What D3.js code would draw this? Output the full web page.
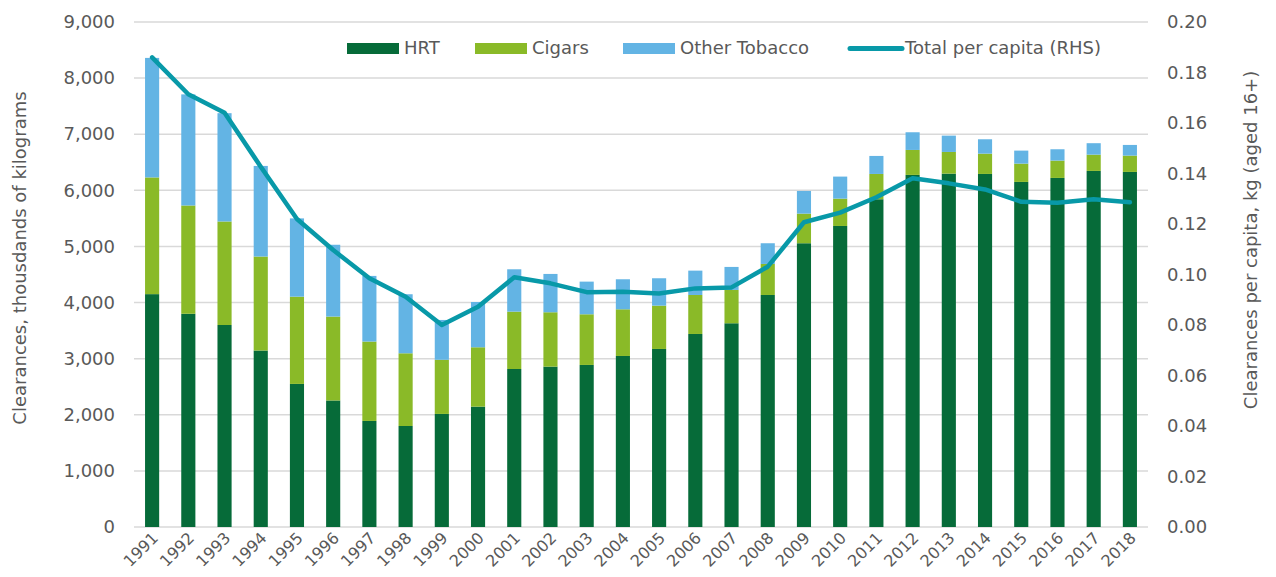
<!DOCTYPE html>
<html lang="en">
<head>
    <meta charset="UTF-8">
    <title>Tobacco clearances</title>
    <script src="https://d3js.org/d3.v7.min.js"></script>
    <style>
        body { margin: 0; background: #fff; }
        svg { display: block; font-family: "DejaVu Sans", Verdana, sans-serif; }
    </style>
</head>
<body>
    <svg width="1276" height="577"></svg>
    <script>
        // Data (thousands of kg, per capita kg)
        const years = d3.range(1991, 2019).map(String);
        const hrt = [4150, 3800, 3600, 3145, 2550, 2255, 1890, 1800, 2015, 2145, 2816, 2858, 2888, 3048,
                     3173, 3440, 3631, 4135, 5057, 5365, 5841, 6275, 6298, 6292, 6150, 6221, 6346, 6328];
        const cigars = [2080, 1930, 1845, 1675, 1555, 1495, 1415, 1296, 965, 1058, 1022, 969, 903, 832,
                        772, 695, 594, 553, 528, 487, 451, 445, 386, 362, 326, 309, 290, 291];
        const otherTobacco = [2130, 1980, 1930, 1615, 1395, 1280, 1170, 1052, 710, 807, 755, 683, 582, 535,
                              488, 434, 410, 369, 404, 393, 321, 315, 291, 256, 232, 202, 204, 190];
        const perCapita = [0.186, 0.1714, 0.1641, 0.1427, 0.122, 0.1097, 0.0985, 0.0912, 0.080, 0.0872,
                           0.0989, 0.0965, 0.093, 0.0932, 0.0925, 0.0945, 0.0949, 0.1031, 0.1207, 0.1245,
                           0.1306, 0.1381, 0.1361, 0.1337, 0.1288, 0.1284, 0.1298, 0.1286];
        const leftTicks = d3.range(0, 9001, 1000);
        const rightTicks = d3.range(0, 0.2001, 0.02);
        const seriesNames = ["HRT", "Cigars", "Other Tobacco"];
        const colors = { "HRT": "#066b39", "Cigars": "#8aba28", "Other Tobacco": "#63b4e4" };
        const lineColor = "#0899a8";
        const textColor = "#595959";

        const svg = d3.select("svg");
        const plotLeft = 134, plotRight = 1148, plotTop = 22, plotBottom = 527;

        const x = d3.scaleBand().domain(years).range([plotLeft, plotRight])
            .paddingInner(0.61).paddingOuter(0.305);
        const y = d3.scaleLinear().domain([0, 9000]).range([plotBottom, plotTop]);
        const y2 = d3.scaleLinear().domain([0, 0.2]).range([plotBottom, plotTop]);

        // gridlines
        svg.append("g").selectAll("line").data(leftTicks).join("line")
            .attr("x1", plotLeft).attr("x2", plotRight)
            .attr("y1", d => y(d)).attr("y2", d => y(d))
            .attr("stroke", "#d9d9d9").attr("stroke-width", 1.5);

        // left axis
        const fmt = d3.format(",");
        const yAxis = svg.append("g").attr("transform", `translate(${plotLeft},0)`)
            .call(d3.axisLeft(y).tickValues(leftTicks).tickFormat(fmt).tickSize(0).tickPadding(19));
        yAxis.select(".domain").remove();
        yAxis.selectAll("text").attr("font-size", 18).attr("fill", textColor)
            .attr("font-family", "DejaVu Sans");

        // right axis
        const y2Axis = svg.append("g").attr("transform", `translate(${plotRight},0)`)
            .call(d3.axisRight(y2).tickValues(rightTicks).tickFormat(d3.format(".2f")).tickSize(0).tickPadding(19));
        y2Axis.select(".domain").remove();
        y2Axis.selectAll("text").attr("font-size", 18).attr("fill", textColor)
            .attr("font-family", "DejaVu Sans");

        // stacked bars
        const rows = years.map((yr, i) => ({
            year: yr, "HRT": hrt[i], "Cigars": cigars[i], "Other Tobacco": otherTobacco[i]
        }));
        const stacked = d3.stack().keys(seriesNames)(rows);
        svg.append("g").selectAll("g").data(stacked).join("g")
            .attr("fill", d => colors[d.key])
            .selectAll("rect").data(d => d).join("rect")
            .attr("x", d => x(d.data.year))
            .attr("width", x.bandwidth())
            .attr("y", d => y(d[1]))
            .attr("height", d => y(d[0]) - y(d[1]));

        // per capita line
        const line = d3.line()
            .x((d, i) => x(years[i]) + x.bandwidth() / 2)
            .y(d => y2(d));
        svg.append("path").datum(perCapita)
            .attr("d", line)
            .attr("fill", "none")
            .attr("stroke", lineColor)
            .attr("stroke-width", 4.5)
            .attr("stroke-linejoin", "round")
            .attr("stroke-linecap", "round");

        // x labels
        svg.append("g").selectAll("text").data(years).join("text")
            .attr("transform", d => `translate(${x(d) + x.bandwidth() / 2 + 7},${plotBottom + 12}) rotate(-45)`)
            .attr("text-anchor", "end")
            .attr("font-size", 16)
            .attr("fill", textColor)
            .text(d => d);

        // axis titles
        svg.append("text")
            .attr("transform", `translate(26,258) rotate(-90)`)
            .attr("text-anchor", "middle")
            .attr("font-size", 18).attr("fill", textColor)
            .text("Clearances, thousdands of kilograms");
        svg.append("text")
            .attr("transform", `translate(1257,240) rotate(-90)`)
            .attr("text-anchor", "middle")
            .attr("font-size", 18).attr("fill", textColor)
            .text("Clearances per capita, kg (aged 16+)");

        // legend
        const legendItems = [
            { name: "HRT", x: 347, type: "rect" },
            { name: "Cigars", x: 475, type: "rect" },
            { name: "Other Tobacco", x: 623, type: "rect" },
            { name: "Total per capita (RHS)", x: 848, type: "line" }
        ];
        const lg = svg.append("g");
        legendItems.forEach(item => {
            if (item.type === "rect") {
                lg.append("rect").attr("x", item.x).attr("y", 43).attr("width", 52).attr("height", 11)
                    .attr("fill", colors[item.name]);
            } else {
                lg.append("line").attr("x1", item.x + 2).attr("x2", item.x + 54).attr("y1", 48.5).attr("y2", 48.5)
                    .attr("stroke", lineColor).attr("stroke-width", 5).attr("stroke-linecap", "round");
            }
            lg.append("text").attr("x", item.x + 57).attr("y", 49)
                .attr("dominant-baseline", "middle")
                .attr("font-size", 18).attr("fill", textColor)
                .text(item.name);
        });
    </script>
</body>
</html>
